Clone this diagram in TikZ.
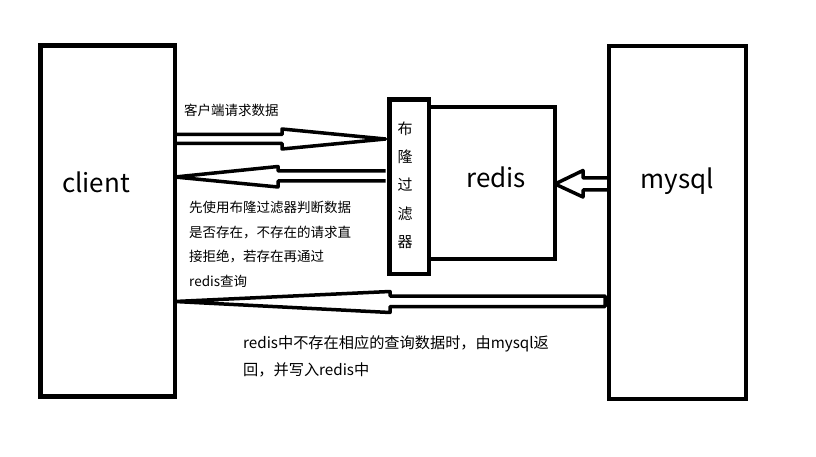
\documentclass[tikz,border=0pt]{standalone}
\usepackage{fontspec}
\setmainfont{Noto Sans CJK SC}
\usetikzlibrary{calc}
\newcommand\myfs[2]{\fontsize{#1}{#2}\selectfont}
\begin{document}
\begin{tikzpicture}[x=1pt,y=-1pt,
  box/.style={draw,line width=4.5pt,inner sep=0pt,outer sep=0pt},
  blockarrow/.style={draw,line width=3.5pt,line join=round},
  lbl/.style={inner sep=0pt,font=\myfs{26}{30}},
  txt/.style={inner sep=0pt,align=left,anchor=north west}]
\useasboundingbox[fill=white] (0,0) rectangle (816,457);
% boxes
\node[box,minimum width=134.5pt,minimum height=351pt] (client) at (107.75,221) {};
\node[box,minimum width=137pt,minimum height=353pt] (mysql) at (677.5,222.5) {};
\node[box,minimum width=126pt,minimum height=152pt] (redis) at (492,183) {};
\node[box,minimum width=39.5pt,minimum height=174.5pt] (filter) at (409.25,186.75) {};
% labels
\node[lbl] (clientlabel) at (96,182) {client};
\node[lbl] (redislabel) at (496,177.5) {redis};
\node[lbl] (mysqllabel) at (677.5,181.5) {mysql};
\node[inner sep=0pt,align=center,font=\myfs{15}{28.3}] (ftext) at (405,185) {布\\隆\\过\\滤\\器};
% texts
\node[inner sep=0pt,anchor=west,font=\myfs{13.5}{16}] (t1) at (184,110) {客户端请求数据};
\node[txt,font=\myfs{13.5}{24.5}] (t2) at (189,201) {先使用布隆过滤器判断数据\\是否存在，不存在的请求直\\接拒绝，若存在再通过\\redis查询};
\node[txt,font=\myfs{15.2}{27}] (t3) at (243,335.5) {redis中不存在相应的查询数据时，由mysql返\\回，并写入redis中};
% block arrows
\draw[blockarrow] (client.east |- 0,134.5) -- (282,134.5) -- (282,129) -- ($(filter.west |- 0,139)+(-4,0)$) -- (282,149) -- (282,143.5) -- (client.east |- 0,143.5);
\draw[blockarrow] ($(filter.west |- 0,171)+(-4,0)$) -- (278,171) -- (278,166.5) -- (client.east |- 0,177) -- (278,187) -- (278,181) -- ($(filter.west |- 0,181)+(-4,0)$);
\draw[blockarrow] ($(mysql.west |- 0,296)+(-4,0)$) -- (390,296) -- (390,291.5) -- (client.east |- 0,301.5) -- (390,312.5) -- (390,306.5) -- ($(mysql.west |- 0,306.5)+(-4,0)$) -- cycle;
\draw[blockarrow] (mysql.west |- 0,178) -- (583,178) -- (583,170.5) -- (redis.east |- 0,184) -- (583,197) -- (583,190) -- (mysql.west |- 0,190);
\end{tikzpicture}
\end{document}
